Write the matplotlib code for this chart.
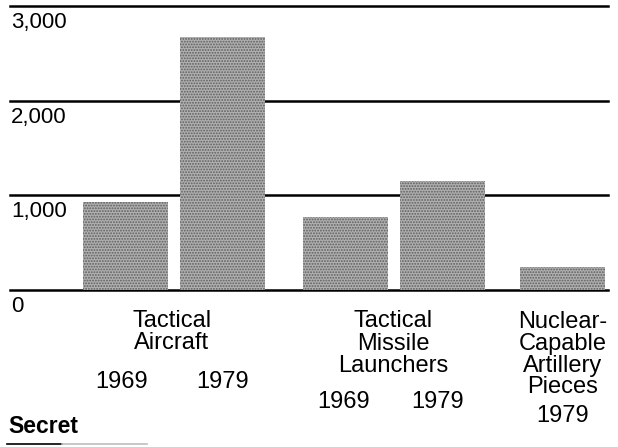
import matplotlib
matplotlib.use("Agg")
import matplotlib.pyplot as plt
from matplotlib.transforms import blended_transform_factory, offset_copy
from matplotlib.lines import Line2D

# ---- data ----
categories = ["Tactical\nAircraft", "Tactical\nMissile\nLaunchers",
              "Nuclear-\nCapable\nArtillery\nPieces"]
group_years = [["1969", "1979"], ["1969", "1979"], ["1979"]]
group_values = [[930, 2670], [770, 1150], [240]]
y_ticks = [0, 1000, 2000, 3000]
y_tick_labels = ["0", "1,000", "2,000", "3,000"]
footer = "Secret"

W, H = 618, 447
plt.rcParams['font.family'] = ['Liberation Sans', 'DejaVu Sans']
plt.rcParams['hatch.linewidth'] = 0.9
fig = plt.figure(figsize=(W / 100, H / 100), dpi=100)

# axes spanning the plotting region (x units = pixels for layout convenience)
x0, x1 = 10, 608
y_zero_px, y_top_px = 290, 5.9
ax = fig.add_axes([x0 / W, 1 - y_zero_px / H, (x1 - x0) / W, (y_zero_px - y_top_px) / H])
ax.set_xlim(x0, x1)
ax.set_ylim(0, 3000)
ax.axis("off")

# layout
bar_w = 85
in_group_step = 97
group_starts = [125.5, 345, 562.5]   # centre of first bar in each group
bar_color = "#b0b0b0"
speckle = "#5e5e5e"

for g, (yrs, vals) in enumerate(zip(group_years, group_values)):
    xs = [group_starts[g] + i * in_group_step for i in range(len(vals))]
    ax.bar(xs, vals, width=bar_w, facecolor=bar_color, edgecolor=speckle,
           hatch="......", zorder=2, linewidth=0)

for t in y_ticks:
    ax.axhline(t, color="black", lw=1.8, zorder=1, clip_on=False)

# y tick labels just below each line
lab_tr = offset_copy(ax.transData, fig=fig, x=0, y=-6, units="dots")
for t, lab in zip(y_ticks, y_tick_labels):
    ax.text(11, t, lab, transform=lab_tr, ha="left", va="top",
            fontsize=16, color="black")

# category and year labels (y in pixels from top)
tr = blended_transform_factory(ax.transData, fig.transFigure)
def fy(px):
    return 1 - px / H

cat_baselines = [[327, 349], [327, 350, 372], [328, 350, 372, 393]]
year_baselines = [388, 408, 422]
year_dx = [[-4, 0], [-1, -4], [0]]
for g, cat in enumerate(categories):
    n = len(group_values[g])
    xs = [group_starts[g] + i * in_group_step for i in range(n)]
    cx = sum(xs) / n - (2 if n == 2 and g == 0 else 0)
    for line, yb in zip(cat.split("\n"), cat_baselines[g]):
        ax.text(cx, fy(yb), line, transform=tr, ha="center", va="baseline",
                fontsize=17, color="black")
    for i, yr in enumerate(group_years[g]):
        ax.text(xs[i] + year_dx[g][i], fy(year_baselines[g]), yr, transform=tr,
                ha="center", va="baseline", fontsize=17, color="black")

fig.text(8 / W, fy(433), footer, ha="left", va="baseline", fontsize=16.5,
         fontweight="bold", color="black")

# short rule under footer
fig.add_artist(Line2D([7 / W, 62 / W], [fy(444), fy(444)], color="black", lw=1.2))
fig.add_artist(Line2D([62 / W, 147 / W], [fy(444), fy(444)], color="#bdbdbd", lw=1.2))

fig.savefig("out.png", dpi=100, facecolor="white")
